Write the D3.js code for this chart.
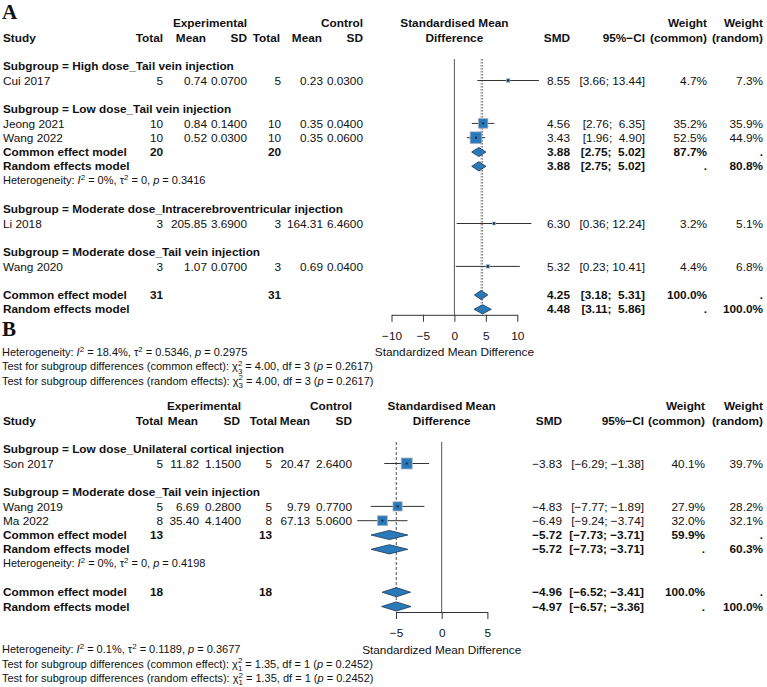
<!DOCTYPE html>
<meta charset="utf-8">
<script src="https://d3js.org/d3.v7.min.js"></script>
<style>
  body { margin: 0; background: #fff; }
  text { font-family: "Liberation Sans", Arial, sans-serif; font-size: 11.8px; fill: #111; white-space: pre; }
  .b { font-weight: bold; }
  .letter { font-family: "Liberation Serif", "Times New Roman", serif; font-size: 21px; font-weight: bold; }
</style>
<div id="chart"></div>
<script>
// ---- panel A data ----
var aSubgroups = ["High dose_Tail vein injection", "Low dose_Tail vein injection",
  "Moderate dose_Intracerebroventricular injection", "Moderate dose_Tail vein injection"];
var aStudies = [
  {study: "Cui 2017",   sub: 0, n1: 5,  m1: 0.74,   sd1: 0.07, n2: 5,  m2: 0.23,   sd2: 0.03, smd: 8.55, lo: 3.66, hi: 13.44, wc: 4.7,  wr: 7.3},
  {study: "Jeong 2021", sub: 1, n1: 10, m1: 0.84,   sd1: 0.14, n2: 10, m2: 0.35,   sd2: 0.04, smd: 4.56, lo: 2.76, hi: 6.35,  wc: 35.2, wr: 35.9},
  {study: "Wang 2022",  sub: 1, n1: 10, m1: 0.52,   sd1: 0.03, n2: 10, m2: 0.35,   sd2: 0.06, smd: 3.43, lo: 1.96, hi: 4.90,  wc: 52.5, wr: 44.9},
  {study: "Li 2018",    sub: 2, n1: 3,  m1: 205.85, sd1: 3.69, n2: 3,  m2: 164.31, sd2: 6.46, smd: 6.30, lo: 0.36, hi: 12.24, wc: 3.2,  wr: 5.1},
  {study: "Wang 2020",  sub: 3, n1: 3,  m1: 1.07,   sd1: 0.07, n2: 3,  m2: 0.69,   sd2: 0.04, smd: 5.32, lo: 0.23, hi: 10.41, wc: 4.4,  wr: 6.8}
];
var aPooled = [
  {sub: 1, n1: 20, n2: 20, common: [3.88, 2.75, 5.02], wc: 87.7, random: [3.88, 2.75, 5.02], wr: 80.8, i2: "0%", tau2: "0", p: "0.3416"}
];
var aOverall = {n1: 31, n2: 31, common: [4.25, 3.18, 5.31], random: [4.48, 3.11, 5.86]};
var aHet = {i2: "18.4%", tau2: "0.5346", p: "0.2975"};
var aTests = [["common effect", "4.00", 3, "0.2617"], ["random effects", "4.00", 3, "0.2617"]];
var aTicks = [-10, -5, 0, 5, 10];

// ---- panel B data ----
var bSubgroups = ["Low dose_Unilateral cortical injection", "Moderate dose_Tail vein injection"];
var bStudies = [
  {study: "Son 2017",  sub: 0, n1: 5, m1: 11.82, sd1: 1.15, n2: 5, m2: 20.47, sd2: 2.64, smd: -3.83, lo: -6.29, hi: -1.38, wc: 40.1, wr: 39.7},
  {study: "Wang 2019", sub: 1, n1: 5, m1: 6.69,  sd1: 0.28, n2: 5, m2: 9.79,  sd2: 0.77, smd: -4.83, lo: -7.77, hi: -1.89, wc: 27.9, wr: 28.2},
  {study: "Ma 2022",   sub: 1, n1: 8, m1: 35.40, sd1: 4.14, n2: 8, m2: 67.13, sd2: 5.06, smd: -6.49, lo: -9.24, hi: -3.74, wc: 32.0, wr: 32.1}
];
var bPooled = [
  {sub: 1, n1: 13, n2: 13, common: [-5.72, -7.73, -3.71], wc: 59.9, random: [-5.72, -7.73, -3.71], wr: 60.3, i2: "0%", tau2: "0", p: "0.4198"}
];
var bOverall = {n1: 18, n2: 18, common: [-4.96, -6.52, -3.41], random: [-4.97, -6.57, -3.36]};
var bHet = {i2: "0.1%", tau2: "0.1189", p: "0.3677"};
var bTests = [["common effect", "1.35", 1, "0.2452"], ["random effects", "1.35", 1, "0.2452"]];
var bTicks = [-5, 0, 5];

var W = 767, H = 687, rowH = 14.3;
var blue = "#2a79b9";
var f2 = d3.format(".2f"), f4 = d3.format(".4f"), f1 = d3.format(".1f");
var pct = function(v) { return f1(v) + "%"; };

var svg = d3.select("#chart").append("svg")
    .attr("width", W)
    .attr("height", H);
svg.append("rect").attr("width", W).attr("height", H).attr("fill", "#fff");

function txt(g, x, y, s, anchor, bold, size) {
  var t = g.append("text")
    .attr("x", x)
    .attr("y", y)
    .attr("dy", "0.35em")
    .attr("text-anchor", anchor || "start")
    .text(s);
  if (bold) t.attr("class", "b");
  if (size) t.style("font-size", size + "px");
  return t;
}

// text with italic / super / subscripts, parts = [[string, kind], ...]
function rich(g, x, y, parts, size) {
  var t = g.append("text").attr("x", x).attr("y", y + size * 0.35).style("font-size", size + "px");
  var cur = 0;
  parts.forEach(function(p) {
    var off = 0, fs = size, dx = 0;
    if (p[1] === "sup") { off = -size * 0.38; fs = size * 0.72; }
    if (p[1] === "sub") { off = size * 0.3; fs = size * 0.72; dx = -size * 0.72 * 0.556; }
    var ts = t.append("tspan").text(p[0]).attr("dy", off - cur).style("font-size", fs + "px");
    if (dx) ts.attr("dx", dx);
    if (p[1] === "i") ts.style("font-style", "italic");
    cur = off;
  });
}

function hetParts(h) {
  return [["Heterogeneity: ", ""], ["I", "i"], ["2", "sup"], [" = " + h.i2 + ", ", ""], ["\u03c4", ""], ["2", "sup"],
          [" = " + h.tau2 + ", ", ""], ["p", "i"], [" = " + h.p, ""]];
}
function testParts(t) {
  return [["Test for subgroup differences (" + t[0] + "): ", ""], ["\u03c7", ""], ["2", "sup"], [String(t[2]), "sub"],
          [" = " + t[1] + ", df = " + t[2] + " (", ""], ["p", "i"], [" = " + t[3] + ")", ""]];
}

function panel(o) {
  var g = svg.append("g");
  var c = o.cols;
  var y = function(r) { return o.y0 + r * rowH; };
  var x = d3.scaleLinear().domain(o.domain).range(o.range);
  var mid = (o.range[0] + o.range[1]) / 2;
  var box = d3.scaleSqrt().domain([0, d3.max(o.studies, function(d) { return d.wc; })]).range([0, o.maxBox]);

  // CI strings padded like R does
  var all = o.studies.map(function(d) { return [d.lo, d.hi]; })
    .concat(o.pooled.map(function(p) { return p.common.slice(1); }))
    .concat(o.pooled.map(function(p) { return p.random.slice(1); }))
    .concat([o.overall.common.slice(1), o.overall.random.slice(1)]);
  var loW = d3.max(all, function(v) { return f2(v[0]).length; });
  var hiW = d3.max(all, function(v) { return f2(v[1]).length; });
  var ci = function(lo, hi) { return "[" + f2(lo).padStart(loW) + "; " + f2(hi).padStart(hiW) + "]"; };

  g.append("text").attr("class", "letter").attr("x", 2).attr("y", o.letterY).text(o.letter);

  // headers
  txt(g, c.exp, y(0), "Experimental", "end", true);
  txt(g, c.ctl, y(0), "Control", "end", true);
  txt(g, mid, y(0), "Standardised Mean", "middle", true);
  txt(g, c.wc, y(0), "Weight", "end", true);
  txt(g, c.wr, y(0), "Weight", "end", true);
  txt(g, c.study, y(1), "Study", "start", true);
  txt(g, c.hn1, y(1), "Total", "end", true);
  txt(g, c.hm1, y(1), "Mean", "end", true);
  txt(g, c.hsd1, y(1), "SD", "end", true);
  txt(g, c.hn2, y(1), "Total", "end", true);
  txt(g, c.hm2, y(1), "Mean", "end", true);
  txt(g, c.hsd2, y(1), "SD", "end", true);
  txt(g, mid, y(1), "Difference", "middle", true);
  txt(g, c.smd, y(1), "SMD", "end", true);
  txt(g, c.ci, y(1), "95%\u2212CI", "end", true);
  txt(g, c.wc, y(1), "(common)", "end", true);
  txt(g, c.wr, y(1), "(random)", "end", true);

  // row layout
  var rows = [], r = 2;
  o.subgroups.forEach(function(s, i) {
    r++;
    rows.push({type: "title", r: r, text: "Subgroup = " + s}); r++;
    o.studies.filter(function(d) { return d.sub === i; }).forEach(function(d) {
      rows.push({type: "study", r: r, d: d}); r++;
    });
    var p = o.pooled.filter(function(q) { return q.sub === i; })[0];
    if (p) {
      rows.push({type: "pool", r: r, label: "Common effect model", n1: p.n1, n2: p.n2, est: p.common, wc: pct(p.wc), wr: "."}); r++;
      rows.push({type: "pool", r: r, label: "Random effects model", est: p.random, wc: ".", wr: pct(p.wr)}); r++;
      rows.push({type: "het", r: r, h: p}); r++;
    }
  });
  r++;
  rows.push({type: "pool", r: r, label: "Common effect model", n1: o.overall.n1, n2: o.overall.n2, est: o.overall.common, wc: pct(100), wr: "."}); r++;
  rows.push({type: "pool", r: r, label: "Random effects model", est: o.overall.random, wc: ".", wr: pct(100)});
  var last = r;
  var axisY = y(last) + 5.5;

  // reference lines
  g.append("line").attr("x1", x(0)).attr("x2", x(0)).attr("y1", y(2.5)).attr("y2", axisY)
    .attr("stroke", "#555").attr("stroke-width", 1);
  [o.overall.common[0], o.overall.random[0]].forEach(function(v) {
    g.append("line").attr("x1", x(v)).attr("x2", x(v)).attr("y1", y(2.5)).attr("y2", axisY - 4)
      .attr("stroke", "#777").attr("stroke-width", 1).attr("stroke-dasharray", o.dash);
  });

  rows.forEach(function(row) {
    var yy = y(row.r);
    if (row.type === "title") {
      txt(g, c.study, yy, row.text, "start", true);
    } else if (row.type === "study") {
      var d = row.d;
      txt(g, c.study, yy, d.study);
      txt(g, c.n1, yy, d.n1, "end");
      txt(g, c.m1, yy, f2(d.m1), "end");
      txt(g, c.sd1, yy, f4(d.sd1), "end");
      txt(g, c.n2, yy, d.n2, "end");
      txt(g, c.m2, yy, f2(d.m2), "end");
      txt(g, c.sd2, yy, f4(d.sd2), "end");
      txt(g, c.smd, yy, f2(d.smd), "end");
      txt(g, c.ci, yy, ci(d.lo, d.hi), "end");
      txt(g, c.wc, yy, pct(d.wc), "end");
      txt(g, c.wr, yy, pct(d.wr), "end");
      g.append("line").attr("x1", x(d.lo)).attr("x2", x(d.hi)).attr("y1", yy).attr("y2", yy)
        .attr("stroke", "#333").attr("stroke-width", 1);
      var s = box(d.wc);
      g.append("rect").attr("x", x(d.smd) - s / 2).attr("y", yy - s / 2).attr("width", s).attr("height", s)
        .attr("fill", blue).attr("stroke", "#a9b4bf").attr("stroke-width", 0.8);
      g.append("rect").attr("x", x(d.smd) - 1).attr("y", yy - 1).attr("width", 2).attr("height", 2).attr("fill", "#1a2a3a");
    } else if (row.type === "pool") {
      txt(g, c.study, yy, row.label, "start", true);
      if (row.n1 != null) {
        txt(g, c.n1, yy, row.n1, "end", true);
        txt(g, c.n2, yy, row.n2, "end", true);
      }
      txt(g, c.smd, yy, f2(row.est[0]), "end", true);
      txt(g, c.ci, yy, ci(row.est[1], row.est[2]), "end", true);
      txt(g, c.wc, yy, row.wc, "end", true);
      txt(g, c.wr, yy, row.wr, "end", true);
      var e = row.est;
      g.append("path")
        .attr("d", "M" + x(e[1]) + "," + yy + "L" + x(e[0]) + "," + (yy - 4.6) + "L" + x(e[2]) + "," + yy + "L" + x(e[0]) + "," + (yy + 4.6) + "Z")
        .attr("fill", blue).attr("stroke", "#1b3550").attr("stroke-width", 0.8);
    } else if (row.type === "het") {
      rich(g, c.study, yy, hetParts(row.h), 11);
    }
  });

  // axis
  var ax = g.append("g")
    .attr("transform", "translate(0," + axisY + ")")
    .call(d3.axisBottom(x).tickValues(o.ticks).tickSize(7).tickPadding(10).tickSizeOuter(0));
  ax.selectAll("path, line").attr("stroke", "#333");
  ax.selectAll("text").style("font-size", "11.8px").attr("fill", "#111")
    .style("font-family", "'Liberation Sans', Arial, sans-serif");
  txt(g, mid, y(last + 3), "Standardized Mean Difference", "middle");

  // footnotes
  rich(g, 2, y(last + 3), hetParts(o.het), 11);
  o.tests.forEach(function(t, i) { rich(g, 2, y(last + 4 + i), testParts(t), 11); });
}

panel({
  letter: "A", letterY: 19, y0: 23.3,
  subgroups: aSubgroups, studies: aStudies, pooled: aPooled, overall: aOverall, het: aHet, tests: aTests, ticks: aTicks,
  domain: [-10, 10], range: [391.5, 517.3], maxBox: 11.7, dash: "1.5,1.5",
  cols: {study: 3, n1: 163, m1: 207, sd1: 247, n2: 281, m2: 323, sd2: 363,
         hn1: 163, hm1: 206, hsd1: 247, hn2: 280, hm2: 322, hsd2: 363,
         exp: 247, ctl: 363, smd: 570, ci: 645, wc: 707, wr: 763}
});

panel({
  letter: "B", letterY: 336, y0: 406.3,
  subgroups: bSubgroups, studies: bStudies, pooled: bPooled, overall: bOverall, het: bHet, tests: bTests, ticks: bTicks,
  domain: [-5, 5], range: [396, 487.4], maxBox: 11, dash: "3,2",
  cols: {study: 3, n1: 163, m1: 199, sd1: 241, n2: 272, m2: 310, sd2: 352,
         hn1: 163, hm1: 198, hsd1: 240, hn2: 277, hm2: 310, hsd2: 352,
         exp: 241, ctl: 352, smd: 562, ci: 644, wc: 705, wr: 763}
});
</script>
